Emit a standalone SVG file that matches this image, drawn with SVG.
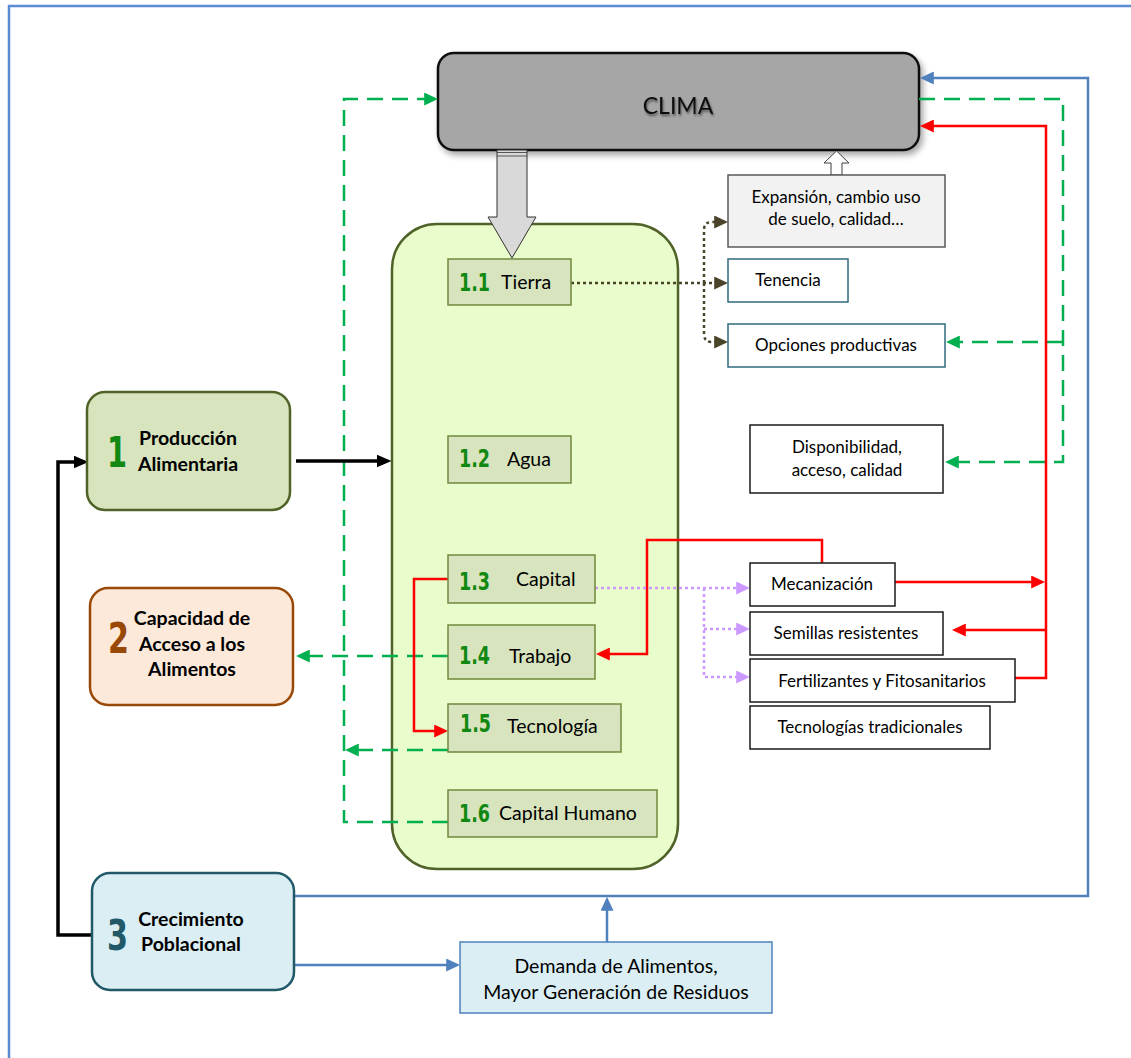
<svg xmlns="http://www.w3.org/2000/svg" width="1131" height="1058" viewBox="0 0 1131 1058">
  <defs>
    <style>
      .lbl { font-family: Lato, "Open Sans", "Liberation Sans", sans-serif; font-size: 17px; fill: #000; }
      .sub { font-family: Lato, "Open Sans", "Liberation Sans", sans-serif; font-size: 19.5px; fill: #000; }
      .dem { font-family: Lato, "Open Sans", "Liberation Sans", sans-serif; font-size: 19.5px; fill: #000; }
      .bold { font-family: Lato, "Open Sans", "Liberation Sans", sans-serif; font-size: 19.5px; font-weight: bold; fill: #000; }
      .num { font-family: "Liberation Sans Narrow", "DejaVu Sans Condensed", "Liberation Sans", sans-serif; font-weight: bold; font-size: 25px; fill: #118811; }
      .big { font-family: "Liberation Sans Narrow", "DejaVu Sans Condensed", "Liberation Sans", sans-serif; font-weight: bold; font-size: 42px; }
      .item { fill: #d7e4bd; stroke: #71893f; stroke-width: 1.5; }
      .plain { fill: #fff; stroke: #1a1a1a; stroke-width: 1.5; }
      .teal { fill: #fff; stroke: #2f6a7e; stroke-width: 1.5; }
      .gdash { fill: none; stroke: #00b050; stroke-width: 2.5; stroke-dasharray: 16 9; }
      .red { fill: none; stroke: #ff0000; stroke-width: 2.5; }
      .blue { fill: none; stroke: #4f81bd; stroke-width: 2.5; }
      .black { fill: none; stroke: #000; stroke-width: 3.5; }
      .purple { fill: none; stroke: #cc99ff; stroke-width: 2.5; stroke-dasharray: 3 3; }
      .olive { fill: none; stroke: #4a452a; stroke-width: 2.5; stroke-dasharray: 3 3; }
    </style>
    <marker id="arrG" viewBox="0 0 10 10" refX="7" refY="5" markerWidth="14" markerHeight="13" markerUnits="userSpaceOnUse" orient="auto" preserveAspectRatio="none"><path d="M0,0 L10,5 L0,10 z" fill="#00b050"/></marker>
    <marker id="arrR" viewBox="0 0 10 10" refX="7" refY="5" markerWidth="14" markerHeight="13" markerUnits="userSpaceOnUse" orient="auto" preserveAspectRatio="none"><path d="M0,0 L10,5 L0,10 z" fill="#ff0000"/></marker>
    <marker id="arrB" viewBox="0 0 10 10" refX="7" refY="5" markerWidth="14" markerHeight="13" markerUnits="userSpaceOnUse" orient="auto" preserveAspectRatio="none"><path d="M0,0 L10,5 L0,10 z" fill="#4f81bd"/></marker>
    <marker id="arrK" viewBox="0 0 10 10" refX="7" refY="5" markerWidth="15" markerHeight="13" markerUnits="userSpaceOnUse" orient="auto" preserveAspectRatio="none"><path d="M0,0 L10,5 L0,10 z" fill="#000"/></marker>
    <marker id="arrP" viewBox="0 0 10 10" refX="7" refY="5" markerWidth="14" markerHeight="13" markerUnits="userSpaceOnUse" orient="auto" preserveAspectRatio="none"><path d="M0,0 L10,5 L0,10 z" fill="#cc99ff"/></marker>
    <marker id="arrO" viewBox="0 0 10 10" refX="7" refY="5" markerWidth="14" markerHeight="13" markerUnits="userSpaceOnUse" orient="auto" preserveAspectRatio="none"><path d="M0,0 L10,5 L0,10 z" fill="#4a452a"/></marker>
    <filter id="shadow" x="-10%" y="-20%" width="130%" height="150%">
      <feGaussianBlur in="SourceAlpha" stdDeviation="3"/>
      <feOffset dx="3" dy="4" result="b"/>
      <feComponentTransfer><feFuncA type="linear" slope="0.35"/></feComponentTransfer>
      <feMerge><feMergeNode/><feMergeNode in="SourceGraphic"/></feMerge>
    </filter>
    <filter id="glow" x="-20%" y="-40%" width="140%" height="180%">
      <feGaussianBlur in="SourceAlpha" stdDeviation="1.2"/>
      <feOffset dx="1" dy="1.5"/>
      <feComponentTransfer><feFuncA type="linear" slope="0.5"/></feComponentTransfer>
      <feMerge><feMergeNode/><feMergeNode in="SourceGraphic"/></feMerge>
    </filter>
  </defs>

  <!-- page frame -->
  <path d="M9,1058 V6 H1131" fill="none" stroke="#5b8bd0" stroke-width="2.5"/>

  <!-- production factors container -->
  <g id="factores">
    <rect x="392" y="224" width="286" height="645" rx="45" fill="#e9fccb" stroke="#4f6228" stroke-width="2.5"/>
  </g>

  <!-- CLIMA -->
  <g id="clima">
    <rect x="438" y="53" width="481" height="97" rx="16" fill="#a6a6a6" stroke="#111" stroke-width="2.5" filter="url(#shadow)"/>
    <text x="678" y="114" text-anchor="middle" font-family="Lato, 'Open Sans', sans-serif" font-size="23" fill="#111" filter="url(#glow)">CLIMA</text>
  </g>

  <!-- broad arrow from CLIMA down into the factors -->
  <g id="flecha-clima">
    <polygon points="497,150 527,150 527,217 536,217 512,258 488,217 497,217" fill="#d9d9d9" stroke="#333" stroke-width="1"/>
    <line x1="497" y1="152.5" x2="527" y2="152.5" stroke="#333" stroke-width="0.8"/>
    <line x1="497" y1="156" x2="527" y2="156" stroke="#333" stroke-width="0.8"/>
  </g>

  <!-- hollow arrow from land-use box up to CLIMA -->
  <g id="flecha-suelo">
    <polygon points="831,175 842,175 842,163 849,163 836.5,151 824,163 831,163" fill="#fff" stroke="#404040" stroke-width="1"/>
  </g>

  <g id="connectors">
    <!-- green dashed feedback -->
    <path class="gdash" d="M448,822 H344 V99 H434" marker-end="url(#arrG)"/>
    <path class="gdash" d="M448,750 H349" marker-end="url(#arrG)"/>
    <path class="gdash" d="M448,656 H300" marker-end="url(#arrG)"/>
    <path class="gdash" d="M919,99 H1063 V462 H949" marker-end="url(#arrG)"/>
    <path class="gdash" d="M1063,342 H950" marker-end="url(#arrG)"/>
    <!-- red links -->
    <path class="red" d="M448,579 H414 V731 H444" marker-end="url(#arrR)"/>
    <path class="red" d="M822,563 V540 H647 V654 H600" marker-end="url(#arrR)"/>
    <path class="red" d="M895,582 H1041" marker-end="url(#arrR)"/>
    <path class="red" d="M1015,678 H1046 V126 H924" marker-end="url(#arrR)"/>
    <path class="red" d="M1046,630 H956" marker-end="url(#arrR)"/>
    <!-- blue links -->
    <path class="blue" d="M294,896 H1088 V78 H924" marker-end="url(#arrB)"/>
    <path class="blue" d="M294,965 H456" marker-end="url(#arrB)"/>
    <path class="blue" d="M607,942 V901" marker-end="url(#arrB)"/>
    <!-- black links -->
    <path class="black" d="M92,935 H58 V462 H84" marker-end="url(#arrK)"/>
    <path class="black" d="M296,461 H387" marker-end="url(#arrK)"/>
    <!-- capital options (dotted) -->
    <path class="purple" d="M595,588 H746" marker-end="url(#arrP)"/>
    <path class="purple" d="M704,588 V677 H746" marker-end="url(#arrP)"/>
    <path class="purple" d="M704,629 H746" marker-end="url(#arrP)"/>
    <!-- land options (dotted) -->
    <path class="olive" d="M571,283 H724" marker-end="url(#arrO)"/>
    <path class="olive" d="M704,283 V230 Q704,222 712,222 H724" marker-end="url(#arrO)"/>
    <path class="olive" d="M704,283 V334 Q704,342 712,342 H724" marker-end="url(#arrO)"/>
  </g>

  <!-- main nodes -->
  <g id="produccion">
    <rect x="87" y="392" width="203" height="118" rx="18" fill="#d7e4bd" stroke="#4f6228" stroke-width="2.5"/>
    <text class="big" x="107" y="467" fill="#118811" textLength="20" lengthAdjust="spacingAndGlyphs">1</text>
    <text class="bold" x="188" y="445" text-anchor="middle">Producción</text>
    <text class="bold" x="188" y="471" text-anchor="middle">Alimentaria</text>
  </g>
  <g id="acceso">
    <rect x="90" y="588" width="203" height="117" rx="18" fill="#fde9d9" stroke="#984807" stroke-width="2.5"/>
    <text class="big" x="108" y="653" fill="#984807" textLength="21" lengthAdjust="spacingAndGlyphs">2</text>
    <text class="bold" x="192" y="625" text-anchor="middle">Capacidad de</text>
    <text class="bold" x="192" y="651" text-anchor="middle">Acceso a los</text>
    <text class="bold" x="192" y="676" text-anchor="middle">Alimentos</text>
  </g>
  <g id="poblacion">
    <rect x="92" y="873" width="202" height="117" rx="18" fill="#daeef3" stroke="#215968" stroke-width="2.5"/>
    <text class="big" x="107" y="950" fill="#215968" textLength="21" lengthAdjust="spacingAndGlyphs">3</text>
    <text class="bold" x="191" y="926" text-anchor="middle">Crecimiento</text>
    <text class="bold" x="191" y="951" text-anchor="middle">Poblacional</text>
  </g>

  <!-- factor boxes -->
  <g id="f11">
    <rect class="item" x="448" y="259" width="123" height="46"/>
    <text class="num" x="459" y="291" textLength="31" lengthAdjust="spacingAndGlyphs">1.1</text>
    <text class="sub" x="501" y="289">Tierra</text>
  </g>
  <g id="f12">
    <rect class="item" x="448" y="436" width="123" height="47"/>
    <text class="num" x="459" y="467" textLength="31" lengthAdjust="spacingAndGlyphs">1.2</text>
    <text class="sub" x="507" y="466">Agua</text>
  </g>
  <g id="f13">
    <rect class="item" x="448" y="555" width="147" height="48"/>
    <text class="num" x="459" y="590" textLength="31" lengthAdjust="spacingAndGlyphs">1.3</text>
    <text class="sub" x="516" y="586">Capital</text>
  </g>
  <g id="f14">
    <rect class="item" x="448" y="625" width="147" height="54"/>
    <text class="num" x="459" y="664" textLength="31" lengthAdjust="spacingAndGlyphs">1.4</text>
    <text class="sub" x="509" y="663">Trabajo</text>
  </g>
  <g id="f15">
    <rect class="item" x="448" y="704" width="173" height="48"/>
    <text class="num" x="460" y="732" textLength="31" lengthAdjust="spacingAndGlyphs">1.5</text>
    <text class="sub" x="507" y="733">Tecnología</text>
  </g>
  <g id="f16">
    <rect class="item" x="448" y="790" width="209" height="47"/>
    <text class="num" x="459" y="822" textLength="31" lengthAdjust="spacingAndGlyphs">1.6</text>
    <text class="sub" x="499" y="820">Capital Humano</text>
  </g>

  <!-- land options -->
  <g id="expansion">
    <rect x="728" y="175" width="217" height="72" fill="#f2f2f2" stroke="#595959" stroke-width="1.5"/>
    <text class="lbl" x="836" y="203" text-anchor="middle">Expansión, cambio uso</text>
    <text class="lbl" x="836" y="225" text-anchor="middle">de suelo, calidad…</text>
  </g>
  <g id="tenencia">
    <rect class="teal" x="728" y="259" width="120" height="43"/>
    <text class="lbl" x="788" y="286" text-anchor="middle">Tenencia</text>
  </g>
  <g id="opciones">
    <rect class="teal" x="728" y="324" width="217" height="43"/>
    <text class="lbl" x="836" y="351" text-anchor="middle">Opciones productivas</text>
  </g>
  <g id="disponibilidad">
    <rect class="plain" x="750" y="425" width="193" height="68"/>
    <text class="lbl" x="847" y="453" text-anchor="middle">Disponibilidad,</text>
    <text class="lbl" x="847" y="476" text-anchor="middle">acceso, calidad</text>
  </g>

  <!-- technology options -->
  <g id="mecanizacion">
    <rect class="plain" x="750" y="563" width="145" height="43"/>
    <text class="lbl" x="822" y="590" text-anchor="middle">Mecanización</text>
  </g>
  <g id="semillas">
    <rect class="plain" x="750" y="612" width="193" height="43"/>
    <text class="lbl" x="846" y="639" text-anchor="middle">Semillas resistentes</text>
  </g>
  <g id="fertilizantes">
    <rect class="plain" x="750" y="659" width="265" height="43"/>
    <text class="lbl" x="882" y="687" text-anchor="middle">Fertilizantes y Fitosanitarios</text>
  </g>
  <g id="tradicionales">
    <rect class="plain" x="750" y="706" width="240" height="43"/>
    <text class="lbl" x="870" y="733" text-anchor="middle">Tecnologías tradicionales</text>
  </g>

  <!-- demand box -->
  <g id="demanda">
    <rect x="460" y="942" width="312" height="71" fill="#daeef3" stroke="#4f81bd" stroke-width="1.5"/>
    <text class="dem" x="616" y="973" text-anchor="middle">Demanda de Alimentos,</text>
    <text class="dem" x="616" y="999" text-anchor="middle">Mayor Generación de Residuos</text>
  </g>
</svg>
